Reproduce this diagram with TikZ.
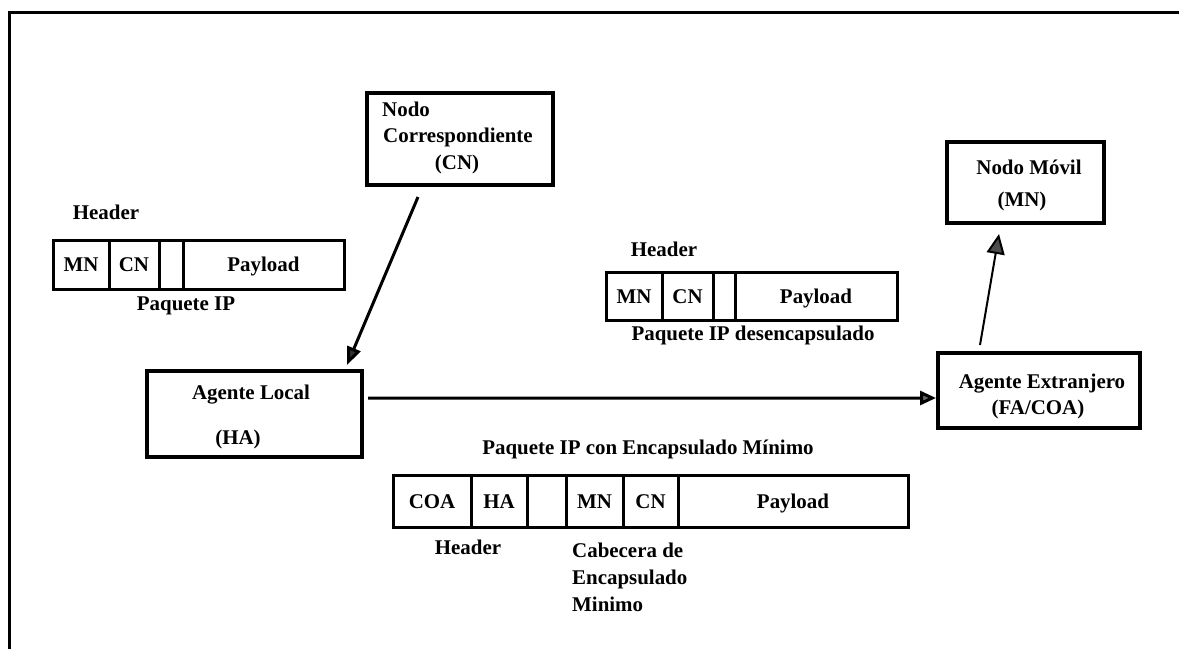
\documentclass[tikz,border=0pt]{standalone}
\usepackage{fontspec}
\setmainfont{Liberation Serif}
\usetikzlibrary{arrows.meta}
\begin{document}
\begin{tikzpicture}[x=1bp,y=-1bp,
  every node/.style={font=\fontsize{21}{25}\selectfont\bfseries},
  lbl/.style={inner sep=0pt, text height=14bp, text depth=0pt},
  agent/.style={draw, line width=4bp, inner sep=0pt},
  cell/.style={draw, line width=3bp, inner sep=0pt, text height=14bp, text depth=0pt},
  frameline/.style={line width=3bp},
  thickflow/.style={line width=3bp, -{Triangle[length=18bp,width=14bp,fill=black!80]}},
  grayflow/.style={line width=3bp, -{Triangle[length=16bp,width=14bp,fill=black!60]}},
  thinflow/.style={line width=2bp, -{Triangle[length=20bp,width=18bp,fill=black!70]}}]
\useasboundingbox (0,0) rectangle (1179,649);

% outer frame (top and left edges)
\draw[frameline] (9,649) -- (9,13) -- (1179,13);

% agents and nodes
\node[agent, minimum width=186bp, minimum height=92bp] (cn) at (460,139) {};
\node[lbl, anchor=west] (cn1) at (382,110) {Nodo};
\node[lbl, anchor=west] (cn2) at (383,136) {Correspondiente};
\node[lbl] (cn3) at (457,163) {(CN)};

\node[agent, minimum width=215bp, minimum height=86bp] (ha) at (254.5,414) {};
\node[lbl] (ha1) at (251,392) {Agente Local};
\node[lbl] (ha2) at (238,437) {(HA)};

\node[agent, minimum width=202bp, minimum height=75bp] (fa) at (1039,390.5) {};
\node[lbl] (fa1) at (1042,381) {Agente Extranjero};
\node[lbl] (fa2) at (1038,407) {(FA/COA)};

\node[agent, minimum width=157bp, minimum height=81bp] (mn) at (1025.5,182.5) {};
\node[lbl] (mn1) at (1029,168) {Nodo Móvil};
\node[lbl] (mn2) at (1022,200) {(MN)};

% connectors
\draw[thickflow] ([xshift=53bp,yshift=-10bp]cn.south west) -- ([xshift=-17bp,yshift=4bp]ha.north east);
\draw[grayflow] ([xshift=4bp,yshift=16bp]ha.east) -- ([yshift=-7.5bp]fa.west);
\draw[thinflow] ([xshift=-59bp,yshift=6bp]fa.north) -- ([xshift=-26.5bp,yshift=-9bp]mn.south);

% IP packet
\node[lbl] (h1) at (106,213) {Header};
\node[cell, minimum width=56bp, minimum height=49bp] (p1a) at (81,264.5) {MN};
\node[cell, minimum width=50bp, minimum height=49bp] (p1b) at (134,264.5) {CN};
\node[cell, minimum width=24bp, minimum height=49bp] (p1c) at (171,264.5) {};
\node[cell, minimum width=161bp, minimum height=49bp] (p1d) at (263.5,264.5) {Payload};
\node[lbl] (p1t) at (186,303) {Paquete IP};

% decapsulated IP packet
\node[lbl] (h2) at (664,249) {Header};
\node[cell, minimum width=56bp, minimum height=48bp] (p2a) at (634,296) {MN};
\node[cell, minimum width=51bp, minimum height=48bp] (p2b) at (687.5,296) {CN};
\node[cell, minimum width=22bp, minimum height=48bp] (p2c) at (724,296) {};
\node[cell, minimum width=162bp, minimum height=48bp] (p2d) at (816,296) {Payload};
\node[lbl] (p2t) at (753,333) {Paquete IP desencapsulado};

% IP packet with minimal encapsulation
\node[lbl] (p3t) at (648,447) {Paquete IP con Encapsulado Mínimo};
\node[cell, minimum width=78bp, minimum height=52bp] (p3a) at (432,501) {COA};
\node[cell, minimum width=56bp, minimum height=52bp] (p3b) at (499,501) {HA};
\node[cell, minimum width=39bp, minimum height=52bp] (p3c) at (546.5,501) {};
\node[cell, minimum width=57bp, minimum height=52bp] (p3d) at (594.5,501) {MN};
\node[cell, minimum width=55bp, minimum height=52bp] (p3e) at (650.5,501) {CN};
\node[cell, minimum width=230bp, minimum height=52bp] (p3f) at (793,501) {Payload};
\node[lbl] (h3) at (468,547) {Header};
\node[lbl, anchor=west] (c1) at (572,550) {Cabecera de};
\node[lbl, anchor=west] (c2) at (572,577) {Encapsulado};
\node[lbl, anchor=west] (c3) at (572,604) {Minimo};
\end{tikzpicture}
\end{document}
